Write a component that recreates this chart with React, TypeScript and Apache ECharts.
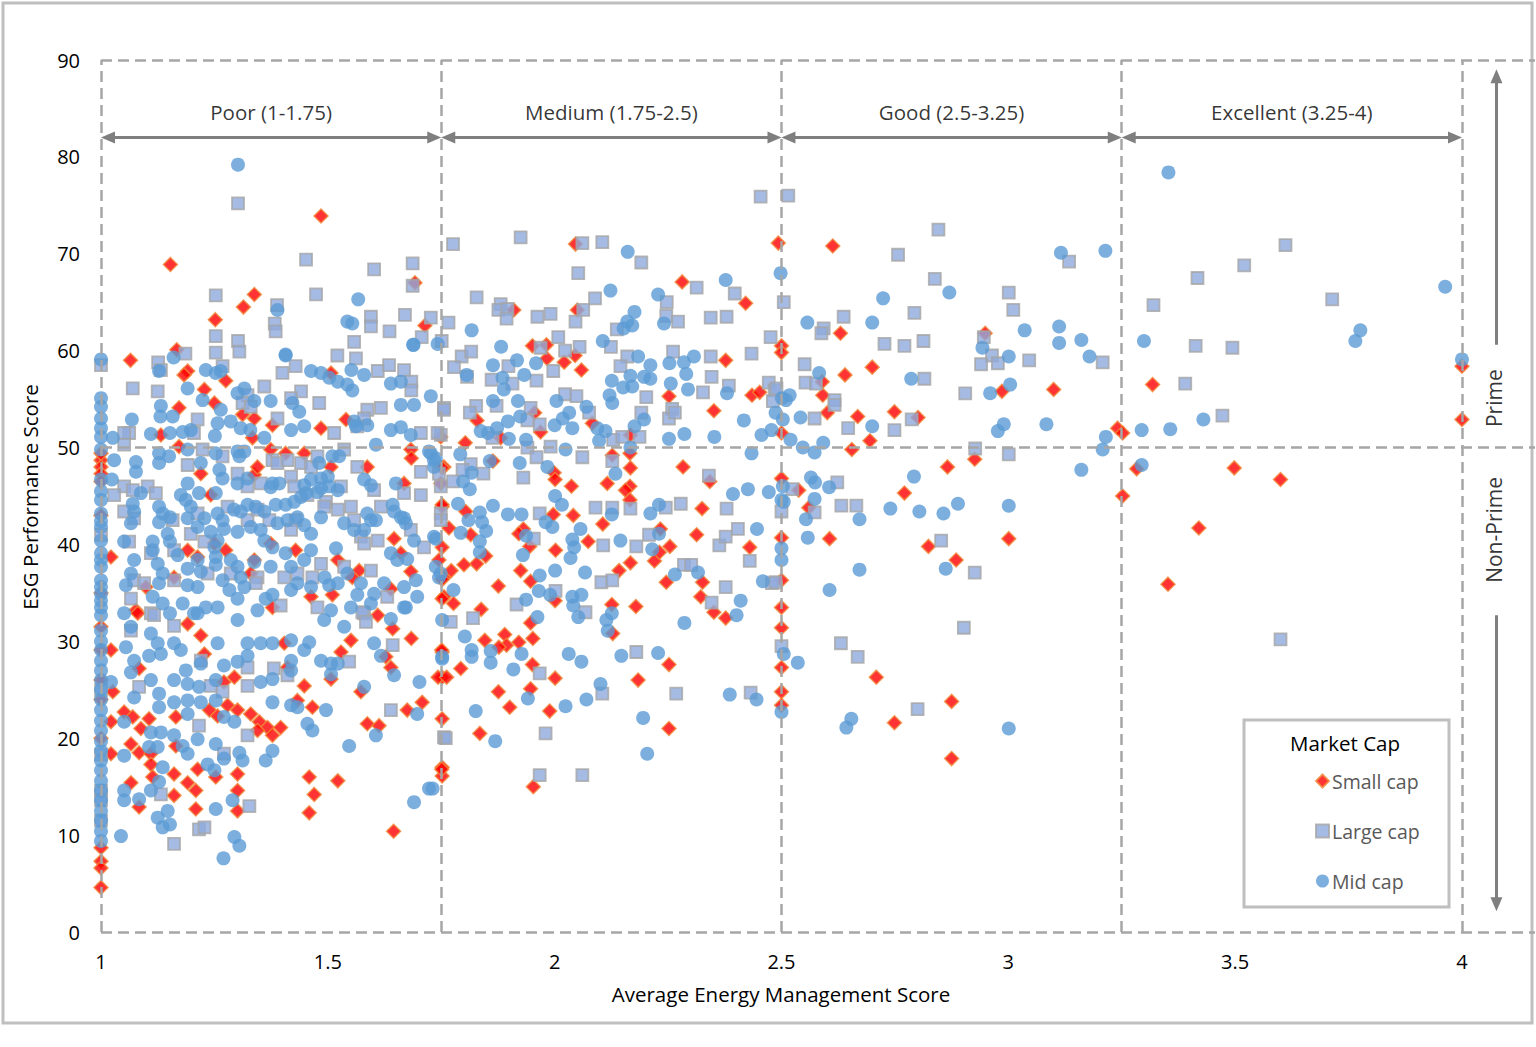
import React, { useEffect, useRef } from "react";
import * as echarts from "echarts";

const FONT = "'Open Sans', 'Noto Sans', sans-serif";

const xBoundaries = [1, 1.75, 2.5, 3.25, 4];
const yGuides = [0, 50, 90];
const bandLabels = ["Poor (1-1.75)", "Medium (1.75-2.5)", "Good (2.5-3.25)", "Excellent (3.25-4)"];
const bandLabelY = 84.6;
const arrowY = 82.0;
const sideLabels = ["Prime", "Non-Prime"];
const sideLabelPos = [[4.071, 55.1], [4.071, 41.5]];
const sideArrowX = 4.076;
const primeArrow = [60.6, 88.4];
const nonPrimeArrow = [32.7, 2.8];
const xTickLabels = ["1", "1.5", "2", "2.5", "3", "3.5", "4"];
const seriesNames = ["Small cap", "Large cap", "Mid cap"];

const smallCap: number[][] = [
  [1.485,73.9],[1.153,68.9],[1.338,65.8],[1.314,64.5],[1.252,63.2],[1.692,67.0],[1.714,62.6],[1.065,59.0],[1.167,60.1],
  [1.191,57.9],[1.183,57.5],[1.275,56.9],[1.228,56.0],[1.25,54.6],[1.172,54.1],[1.132,51.3],[1.172,50.1],[1.312,53.4],[1.338,53.0],[1.378,52.3],[1.338,47.2],[1.345,48.0],[1.407,49.4],[1.485,52.0],[1.507,57.7],[1.54,52.9],[1.587,48.0],[1.683,49.8],[1.684,48.9],[1.756,48.0],[1.752,43.9],[1.752,39.7],[1.756,34.6],[1.756,36.6],[1.749,46.3],[1.668,46.3],[1.646,40.6],[1.661,39.1],[1.683,37.2],[1.639,35.4],[1.61,32.7],[1.745,38.4],[1.569,37.3],[1.554,36.6],[1.522,38.4],[1.51,34.8],[1.463,34.6],[1.429,39.4],[1.374,40.1],[1.378,33.5],[1.33,37.0],[1.338,38.4],[1.275,39.4],[1.25,40.1],[1.191,39.4],[1.213,38.7],[1.161,36.6],[1.077,33.2],[1.022,38.7],[1.099,35.6],[1.334,51.0],[1.22,47.3],[1.242,45.1],[1.374,49.8],[1.448,49.4],[1.507,48.0],[1,48.7],[1,48.0],[1,47.3],[1,49.4],[1,46.5],[1.749,51.1],
  [1,29.1],[1,8.7],[1,7.3],[1,6.6],[1,4.6],[1,43.0],[1,35.0],[1,31.5],[1,20.0],[1,26.0],[1,24.0],[1.022,29.1],[1.026,24.8],[1.022,21.7],[1.022,18.4],[1.051,22.7],[1.07,22.2],[1.066,19.4],[1.084,18.5],[1.066,15.4],[1.084,12.9],[1.081,32.9],[1.084,27.2],[1.088,21.0],[1.106,22.0],[1.11,18.4],[1.11,17.3],[1.114,16.0],[1.165,19.2],[1.161,16.3],[1.161,14.1],[1.191,15.4],[1.209,14.6],[1.209,12.7],[1.213,16.8],[1.165,22.2],[1.191,31.8],[1.22,30.6],[1.228,28.7],[1.239,22.9],[1.271,25.8],[1.294,26.3],[1.279,23.4],[1.301,22.9],[1.257,22.3],[1.33,22.5],[1.349,21.7],[1.367,21.1],[1.396,21.1],[1.345,20.8],[1.378,20.3],[1.301,14.6],[1.301,12.5],[1.301,16.3],[1.253,16.0],[1.411,27.3],[1.433,23.9],[1.466,23.2],[1.404,29.8],[1.448,25.4],[1.529,28.9],[1.551,30.1],[1.507,26.1],[1.573,24.8],[1.587,21.5],[1.613,21.3],[1.639,27.3],[1.628,28.4],[1.643,31.3],[1.684,30.3],[1.708,23.7],[1.675,22.9],[1.459,16.0],[1.47,14.2],[1.459,12.3],[1.522,15.6],[1.645,10.4],[1.752,22.0],[1.752,17.0],[1.752,16.1],[1.752,26.3],[1.752,28.9],
  [2.046,71.0],[2.281,67.1],[2.421,64.9],[2.493,71.1],[1.91,64.2],[2.05,64.2],[1.951,60.5],[1.982,60.6],[1.983,59.2],[2.021,58.8],[2.059,58.0],[2.045,59.5],[2.377,59.0],[2.5,60.5],[2.5,59.8],[2.252,55.3],[2.351,53.8],[2.435,55.4],[2.452,55.7],[1.829,52.8],[1.956,53.6],[2.083,52.5],[1.969,51.6],[1.803,50.5],[1.881,51.0],[2.167,51.3],[2.166,49.4],[2.167,47.9],[2.127,49.2],[1.999,47.4],[2.001,46.7],[2.283,48.0],[2.116,46.3],[2.166,46.0],[2.156,45.6],[2.166,44.6],[2.037,46.0],[1.864,48.6],[1.752,47.9],[1.804,43.4],[2.5,51.5],[2.342,46.5],[2.325,43.7],[1.997,43.1],[2.041,43.0],
  [1.752,44.1],[1.767,41.7],[1.815,41.0],[1.828,38.0],[1.8,37.9],[1.772,37.3],[1.752,36.4],[1.752,34.4],[1.777,33.9],[1.848,38.8],[1.876,35.7],[1.838,33.3],[1.925,37.3],[1.947,36.2],[1.931,41.6],[1.921,41.1],[1.945,39.8],[2.106,42.1],[2.074,40.3],[2.002,39.4],[2.001,34.2],[1.947,31.9],[1.952,30.3],[1.89,30.7],[1.846,30.1],[1.894,29.6],[1.921,29.9],[1.877,29.4],[1.751,29.1],[1.793,27.2],[1.743,26.3],[1.762,26.3],[1.951,27.6],[1.947,25.1],[2.001,26.2],[1.876,24.8],[1.901,23.2],[1.989,22.8],[1.835,20.5],[2.142,37.3],[2.167,38.1],[2.126,33.8],[2.128,30.8],[2.179,33.6],[2.22,38.3],[2.231,39.2],[2.254,39.8],[2.233,41.6],[2.246,36.1],[2.326,36.1],[2.322,34.6],[2.351,33.0],[2.377,32.4],[2.313,41.0],[2.43,39.7],[2.252,27.6],[2.184,26.0],[2.252,21.0],[1.953,15.0],[1.751,16.8],[2.5,40.7],[2.5,36.3],[2.5,33.5],[2.5,31.4],[2.5,27.3],[2.5,24.8],[2.5,23.4],[2.5,46.8],
  [2.613,70.8],[2.63,61.8],[2.949,61.8],[2.7,58.3],[2.64,57.5],[2.59,56.8],[2.591,55.4],[2.601,53.6],[2.668,53.2],[2.749,53.7],[2.801,53.1],[2.986,55.8],[3.1,56.0],[2.695,50.7],[2.655,49.8],[3.241,52.0],[3.252,51.5],[2.926,48.8],[2.866,48.0],[3.283,47.8],[3.252,45.0],[2.771,45.3],[2.538,45.6],[2.56,43.8],
  [2.606,40.6],[2.824,39.8],[2.885,38.4],[3.001,40.6],[2.709,26.3],[2.875,23.8],[2.749,21.6],[2.875,17.9],
  [3.318,56.5],[4.0,58.4],[4.0,52.9],[3.498,47.9],[3.6,46.7],[3.42,41.7],[3.352,35.9]
];

const largeCap: number[][] = [
  [1.302,75.2],[1.452,69.4],[1.602,68.4],[1.687,69.0],[1.687,66.7],[1.776,71.0],[1.253,65.7],[1.474,65.8],[1.388,64.7],[1.383,62.8],[1.595,63.5],[1.595,62.5],[1.67,63.7],[1.727,63.4],[1.636,62.0],[1.707,61.4],[1.751,61.0],[1.766,62.9],[1.828,65.5],[1.558,60.9],[1.521,59.5],[1.562,59.2],[1.302,61.0],[1.305,59.9],[1.253,61.5],[1.253,59.8],[1.186,59.7],[1.126,58.8],[1,58.5],
  [1.132,58.0],[1.07,56.1],[1.125,55.8],[1.268,58.4],[1.323,55.4],[1.312,54.6],[1.36,56.3],[1.4,57.7],[1.429,58.4],[1.441,55.8],[1.419,55.1],[1.481,54.6],[1.61,57.9],[1.635,58.5],[1.668,58.0],[1.684,56.8],[1.684,55.9],[1.756,54.1],[1.749,51.3],[1.587,53.9],[1.617,54.1],[1.58,53.0],[1.565,52.2],[1.514,51.5],[1.705,51.5],[1.389,53.0],[1.33,54.2],[1.205,51.5],[1.213,52.9],[1.062,51.5],[1.051,51.5],[1.051,50.3],[1.385,62.0],[1.378,48.7],[1.389,48.4],[1.411,48.7],[1.441,48.4],[1.463,48.0],[1.477,49.1],[1.536,49.8],[1.565,48.0],[1.191,48.2],[1.224,49.8],[1.268,49.1],[1.301,47.3],[1.323,46.0],[1.352,46.3],[1.419,47.0],[1.426,46.0],[1.455,45.1],[1.496,44.4],[1.529,46.0],[1.602,45.6],[1.668,45.3],[1.705,47.5],[1.745,47.3],[1.705,45.1],[1.749,43.2],[1.051,46.0],[1.029,45.1],[1.07,45.6],[1.103,46.0],[1.121,45.3],[1.051,43.4],[1.158,42.5],[1.213,43.2],[1.198,41.1],[1.279,43.9],[1.323,42.5],[1.345,43.6],[1.371,42.5],[1.429,42.5],[1.419,41.5],[1.492,43.9],[1.522,43.6],[1.551,43.9],[1.558,42.5],[1.617,43.9],[1.573,40.8],[1.61,40.4],[1.58,40.1],[1.712,39.7],[1.683,41.5],[1.749,42.5],[1.228,40.3],[1.161,39.4],[1.073,42.7],[1.062,40.3],[1.11,39.1],[1.073,36.3],[1.095,36.0],[1.161,36.3],[1.235,37.0],[1.286,37.0],[1.345,36.6],[1.404,36.6],[1.433,37.0],[1.466,36.6],[1.485,38.0],[1.536,37.7],[1.595,37.3],[1.631,34.6],[1.341,36.0],[1.396,33.7],[1.477,33.5],[1.066,34.4],[1.11,32.9],[1.58,32.9],[1.749,46.0],
  [1,14.6],[1,13.6],[1,11.5],[1,18.3],[1,25.0],[1,41.0],[1.066,31.1],[1.117,32.7],[1.161,31.6],[1.084,25.3],[1.132,14.2],[1.22,28.0],[1.242,25.4],[1.268,24.8],[1.216,21.3],[1.323,25.4],[1.323,20.3],[1.271,18.4],[1.323,27.3],[1.381,27.2],[1.411,26.5],[1.547,27.9],[1.576,33.0],[1.584,32.0],[1.643,29.6],[1.639,22.9],[1.327,13.0],[1.216,10.6],[1.228,10.8],[1.161,9.1],[1.756,20.1],
  [1.925,71.7],[2.061,71.1],[2.105,71.2],[2.191,69.1],[2.052,68.0],[2.313,66.5],[2.397,65.9],[2.089,65.4],[2.247,65.0],[1.881,64.8],[1.876,64.2],[1.896,64.3],[1.894,63.3],[1.962,63.5],[1.991,63.8],[2.063,64.2],[2.046,63.0],[2.246,63.6],[2.272,63.0],[2.344,63.4],[2.379,63.5],[2.137,62.2],[2.476,61.4],[2.505,65.0],[2.008,61.4],[2.124,60.4],[2.023,60.0],[2.055,60.4],[1.969,60.3],[1.795,59.4],[1.816,59.9],[1.778,58.3],[1.898,58.4],[1.807,57.3],[1.861,57.0],[1.907,56.6],[1.96,56.9],[1.997,57.9],[2.16,59.4],[2.145,58.4],[2.261,59.9],[2.344,59.4],[2.346,57.3],[2.434,59.7],[2.384,56.4],[2.327,55.7],[2.472,56.7],[2.485,55.9],[2.481,54.8],[2.023,55.5],[2.048,55.3],[2.202,55.2],[2.259,54.0],[2.252,53.0],[2.265,53.6],[2.191,53.6],[1.827,54.3],[1.813,53.6],[1.872,54.3],[1.947,54.1],[1.756,53.9],[1.742,51.5],[1.967,52.4],[1.94,52.8],[1.863,51.0],[1.991,50.1],[2.076,53.6],[2.129,50.8],[2.149,51.1],[2.187,51.1],[1.94,50.0],[1.96,49.0],[2.061,49.0],[2.127,48.6],[1.815,48.3],[1.843,47.3],[1.797,47.7],[1.931,46.9],[1.776,46.5],[2.34,47.1],[2.09,43.8],[2.127,43.8],[2.167,43.7],[2.245,43.8],[2.278,44.2],[2.379,43.7],[1.967,43.2],[2.5,43.4],
  [1.954,40.6],[2.107,39.9],[2.18,39.8],[2.208,41.0],[2.363,39.9],[2.377,40.8],[2.404,41.6],[2.43,38.3],[2.285,37.9],[2.301,37.9],[2.103,36.1],[2.127,36.3],[2.002,35.2],[1.916,33.8],[2.068,33.0],[2.346,34.0],[2.377,35.6],[2.479,36.0],[1.771,32.0],[1.82,32.4],[2.18,28.9],[1.967,26.7],[2.105,24.6],[2.268,24.6],[2.432,24.7],[2.5,29.5],[1.98,20.5],[1.76,20.0],[1.967,16.2],[2.061,16.2],
  [2.454,75.9],[2.515,76.0],
  [2.846,72.5],[2.757,69.9],[2.838,67.4],[3.134,69.2],[3.001,66.0],[3.011,64.2],[2.637,63.5],[2.593,62.3],[2.588,61.8],[2.793,63.9],[2.727,60.7],[2.771,60.5],[2.813,61.0],[2.946,61.4],[2.964,59.5],[2.94,58.6],[2.977,58.7],[3.046,59.0],[3.208,58.8],[2.551,58.6],[2.553,56.7],[2.576,56.6],[2.617,54.9],[2.617,54.4],[2.815,57.1],[2.905,55.6],[2.573,53.0],[2.647,52.0],[2.749,51.8],[2.787,52.9],[2.927,49.9],[3.001,49.3],[2.489,56.1],[2.524,45.7],[2.623,46.4],[2.632,44.0],[2.665,44.0],[2.573,43.3],
  [2.852,40.4],[2.926,37.1],[2.902,31.4],[2.631,29.8],[2.668,28.4],[2.8,23.0],[2.487,36.1],
  [3.611,70.9],[3.52,68.8],[3.417,67.5],[3.32,64.7],[3.714,65.3],[3.413,60.5],[3.494,60.3],[3.39,56.6],[3.472,53.3],[3.6,30.2]
];

const midCap: number[][] = [
  [1.302,79.2],[1.389,64.2],[1.567,65.3],[1.543,63.0],[1.554,62.8],[1.688,60.6],[1.742,60.7],[1.16,59.3],[1.407,59.5],
  [1.026,51.0],[1.024,46.7],[1.029,48.7],[1.068,52.9],[1.11,51.4],[1.128,57.9],[1.132,54.3],[1.131,53.2],[1.158,53.2],[1.152,51.5],[1.191,56.1],[1.224,54.9],[1.231,58.0],[1.253,57.7],[1.264,57.9],[1.264,53.9],[1.251,51.2],[1.257,52.5],[1.198,51.8],[1.18,51.6],[1.301,55.6],[1.316,56.1],[1.338,54.8],[1.286,52.7],[1.308,52.0],[1.329,51.8],[1.36,51.0],[1.374,54.8],[1.407,59.6],[1.422,54.6],[1.437,53.7],[1.448,52.2],[1.419,51.8],[1.463,57.9],[1.485,57.7],[1.503,57.2],[1.522,56.8],[1.543,56.5],[1.554,55.9],[1.552,58.0],[1.58,57.5],[1.558,52.7],[1.562,52.2],[1.587,52.3],[1.606,50.3],[1.639,56.6],[1.661,56.8],[1.661,54.4],[1.69,54.4],[1.639,51.8],[1.661,52.1],[1.683,51.3],[1.689,60.6],[1.727,55.3],[1.727,49.4],[1.734,48.0],
  [1.301,49.6],[1.316,49.6],[1.305,49.1],[1.253,49.4],[1.22,48.4],[1.191,49.8],[1.128,49.4],[1.128,48.4],[1.15,49.1],[1.077,48.5],[1.077,47.5],[1.481,48.4],[1.51,49.1],[1.525,49.1],[1.723,49.6],[1.738,48.9],
  [1.261,47.7],[1.268,46.8],[1.301,46.3],[1.323,46.8],[1.378,46.3],[1.393,46.3],[1.448,46.1],[1.463,46.7],[1.485,46.8],[1.5,47.0],[1.485,45.8],[1.522,45.6],[1.58,46.7],[1.595,46.1],[1.65,46.3],[1.643,44.1],[1.668,42.7],[1.672,42.2],[1.69,40.4],[1.734,40.8],[1.738,37.7],[1.749,37.0],
  [1.191,46.3],[1.216,45.3],[1.176,45.1],[1.253,45.3],[1.257,43.2],[1.268,42.5],[1.293,43.6],[1.308,43.4],[1.323,44.1],[1.341,43.9],[1.374,45.9],[1.36,43.4],[1.385,44.1],[1.407,44.1],[1.426,44.4],[1.441,44.9],[1.452,45.3],[1.477,45.4],[1.503,46.0],[1.07,44.2],[1.088,45.3],[1.073,43.4],[1.066,42.2],[1.051,40.3],[1.128,43.9],[1.136,43.2],[1.152,42.8],[1.128,42.3],[1.147,41.1],[1.152,40.3],[1.114,40.3],[1.114,39.4],[1.125,38.0],[1.136,37.0],[1.128,36.0],[1.073,38.4],[1.066,37.0],[1.055,35.8],[1.169,38.9],[1.191,37.5],[1.191,35.8],[1.213,35.6],[1.22,37.2],[1.213,38.4],[1.18,33.9],[1.136,33.9],[1.114,34.6],[1.187,44.6],[1.198,43.9],[1.191,42.7],[1.228,42.7],[1.213,41.8],[1.242,41.3],[1.257,40.4],[1.271,41.6],[1.301,41.3],[1.33,41.8],[1.352,41.5],[1.36,40.4],[1.378,39.7],[1.389,42.2],[1.411,42.5],[1.433,42.8],[1.448,42.0],[1.463,41.1],[1.485,42.8],[1.536,42.2],[1.558,41.5],[1.58,41.5],[1.595,42.5],[1.587,43.2],[1.606,42.5],[1.646,43.4],[1.661,42.8],
  [1.25,39.7],[1.253,38.7],[1.253,37.9],[1.286,38.4],[1.301,37.7],[1.308,36.6],[1.316,35.6],[1.283,35.3],[1.268,36.3],[1.338,38.2],[1.374,37.7],[1.407,39.1],[1.419,37.7],[1.448,38.4],[1.463,39.4],[1.493,36.6],[1.463,35.6],[1.433,36.0],[1.419,35.3],[1.363,34.4],[1.378,34.8],[1.345,33.2],[1.301,34.4],[1.257,33.5],[1.231,33.5],[1.205,32.9],[1.503,35.8],[1.522,36.0],[1.543,37.0],[1.573,36.0],[1.602,34.9],[1.565,34.8],[1.595,33.9],[1.624,36.0],[1.639,39.1],[1.653,38.4],[1.675,38.5],[1.694,36.3],[1.668,35.6],[1.672,33.5],[1.697,34.6],[1.745,36.6],[1.752,32.2],[1.518,39.6],
  [1.022,25.8],[1.051,32.9],[1.055,29.4],[1.066,31.5],[1.073,28.0],[1.066,26.8],[1.073,24.2],[1.051,21.7],[1.051,18.2],[1.051,14.6],[1.051,13.6],[1.084,13.7],[1.044,9.9],[1.11,30.8],[1.106,28.5],[1.125,29.8],[1.132,28.7],[1.11,26.0],[1.128,24.6],[1.128,23.2],[1.11,20.6],[1.132,20.6],[1.106,19.1],[1.125,19.1],[1.136,17.0],[1.128,15.5],[1.11,14.6],[1.125,11.8],[1.147,12.5],[1.136,10.8],[1.152,11.1],[1.152,32.9],[1.161,29.8],[1.176,29.1],[1.161,26.0],[1.187,27.0],[1.191,25.6],[1.191,23.9],[1.161,23.7],[1.161,20.3],[1.18,19.2],[1.191,18.4],[1.213,32.9],[1.22,27.7],[1.216,25.3],[1.191,22.5],[1.22,23.7],[1.253,26.0],[1.253,23.9],[1.271,27.5],[1.257,29.8],[1.253,19.4],[1.213,19.9],[1.235,17.3],[1.25,16.7],[1.271,17.9],[1.271,22.2],[1.294,21.7],[1.312,17.7],[1.305,18.5],[1.253,12.7],[1.29,13.6],[1.294,9.8],[1.305,8.9],[1.27,7.6],[1.301,27.9],[1.323,29.8],[1.323,28.5],[1.352,29.8],[1.378,29.8],[1.352,25.8],[1.378,26.1],[1.378,23.7],[1.363,17.7],[1.378,18.7],[1.301,32.2],[1.419,30.1],[1.419,28.0],[1.419,27.0],[1.448,29.1],[1.485,28.0],[1.507,27.7],[1.522,27.7],[1.507,26.6],[1.459,29.9],[1.419,23.4],[1.433,23.2],[1.455,21.5],[1.466,20.8],[1.496,22.9],[1.551,33.5],[1.536,31.5],[1.602,29.8],[1.617,28.5],[1.646,26.5],[1.58,25.3],[1.702,25.8],[1.697,22.5],[1.606,20.3],[1.547,19.2],[1.723,14.8],[1.731,14.8],[1.69,13.4],[1.752,28.2],[1.639,32.3],[1.668,33.5],[1.492,32.2],[1.507,33.2],
  [1,59.1],[1,55.1],[1,54.2],[1,53.0],[1,52.0],[1,51.1],[1,49.8],[1,46.7],[1,45.5],[1,44.6],[1,43.2],[1,42.4],[1,41.8],[1,40.4],[1,39.1],[1,38.4],[1,37.7],[1,36.3],[1,35.6],[1,34.9],[1,34.2],[1,33.5],[1,32.7],[1,31.1],[1,30.0],[1,29.1],[1,28.0],[1,27.0],[1,26.0],[1,25.0],[1,24.0],[1,22.9],[1,21.8],[1,20.8],[1,19.7],[1,18.7],[1,17.7],[1,16.7],[1,15.6],[1,14.6],[1,13.6],[1,12.5],[1,11.5],[1,10.4],[1,9.4],
  [2.161,70.2],[2.123,66.2],[2.228,65.8],[2.377,67.3],[2.498,68.0],[1.817,62.1],[2.176,64.0],[2.16,63.0],[2.152,62.3],[2.171,62.6],[2.241,62.8],[2.106,61.0],[1.882,60.4],[1.864,58.5],[1.917,59.0],[1.959,58.7],[1.933,57.5],[1.885,57.2],[1.888,56.0],[1.806,57.5],[2.184,59.4],[2.211,58.5],[2.253,58.7],[2.285,58.8],[2.307,59.4],[2.29,57.6],[2.167,57.4],[2.197,57.3],[2.211,57.1],[2.126,56.9],[2.151,56.2],[2.171,56.3],[2.256,56.6],[2.294,56.0],[2.38,55.6],[2.121,55.4],[2.127,54.6],[2.004,54.8],[1.864,54.8],[1.919,54.8],[2.07,54.2],[2.032,53.6],[2.018,53.0],[2.0,52.3],[2.039,52.0],[1.924,53.2],[1.897,52.7],[1.873,52.0],[1.837,51.7],[1.853,51.5],[1.899,50.9],[1.937,50.8],[2.094,52.0],[2.112,51.7],[2.098,50.7],[2.176,52.2],[2.197,52.9],[2.167,50.0],[2.252,50.9],[2.286,51.4],[2.352,51.1],[2.417,52.8],[2.456,51.3],[2.478,51.8],[2.487,53.6],[2.503,52.9],[2.51,54.9],[2.434,49.4],[2.024,49.8],[1.792,49.3],[1.857,48.6],[1.923,48.4],[1.984,48.0],[1.817,47.4],[1.798,46.5],[1.813,45.7],[2.001,45.0],[2.016,44.1],[2.134,47.3],[2.23,44.1],[2.393,45.2],[2.426,45.7],[2.472,45.4],[2.503,46.0],[2.505,44.4],[1.787,44.2],[1.864,44.0],[1.835,43.3],[1.897,43.1],[1.927,43.1],[2.126,43.1],[2.211,43.2],[1.734,48.7],
  [1.81,42.5],[1.84,42.3],[1.793,41.2],[1.849,41.4],[1.835,40.3],[1.835,39.2],[1.738,40.6],[1.98,42.3],[1.995,41.8],[2.057,41.6],[2.039,40.5],[2.043,39.7],[2.035,38.6],[1.937,40.9],[1.93,38.9],[2.145,40.4],[2.215,39.5],[2.23,41.1],[2.446,41.6],[2.265,36.9],[2.316,37.1],[2.459,36.2],[2.41,34.2],[2.401,32.7],[2.286,31.9],[2.001,37.3],[2.067,37.1],[1.967,36.8],[1.965,35.2],[1.99,34.8],[2.039,34.6],[2.059,34.8],[2.041,33.7],[2.052,32.5],[1.937,34.3],[2.126,32.9],[2.114,32.2],[2.117,31.1],[1.962,32.5],[1.777,35.3],[1.802,30.5],[1.817,29.1],[1.817,28.4],[1.859,29.0],[1.859,27.8],[1.927,28.7],[1.909,27.1],[2.031,28.7],[2.059,27.9],[2.147,28.5],[2.228,28.8],[2.101,25.6],[2.07,24.0],[2.024,23.3],[1.941,24.1],[1.826,22.8],[1.869,19.7],[2.195,22.1],[2.204,18.4],[2.386,24.5],[2.445,24.0],[1.752,28.4],[2.5,22.7],[2.505,28.7],[2.5,39.6],[2.5,38.4],[2.5,44.6],
  [2.724,65.4],[2.557,62.9],[2.7,62.9],[2.87,66.0],[3.116,70.1],[3.214,70.3],[3.036,62.1],[3.112,62.5],[3.112,60.8],[3.161,61.1],[3.179,59.4],[3.299,61.0],[2.943,60.3],[3.001,59.4],[3.004,56.5],[2.96,55.6],[2.786,57.1],[2.583,57.7],[2.518,55.4],[2.501,55.1],[2.542,53.1],[2.7,52.2],[2.977,51.7],[2.99,52.4],[3.084,52.4],[3.215,51.1],[3.208,49.8],[3.294,51.8],[3.294,48.2],[3.161,47.7],[2.52,50.8],[2.547,50.0],[2.573,49.5],[2.592,50.5],[2.792,47.0],[2.565,46.9],[2.574,46.4],[2.605,45.9],[2.573,44.7],[2.74,43.7],[2.804,43.4],[2.857,43.2],[2.889,44.2],[3.001,44.0],[2.554,42.6],[2.672,42.6],
  [2.558,40.7],[2.672,37.4],[2.862,37.5],[2.606,35.3],[2.536,27.8],[2.654,22.0],[2.643,21.1],[3.001,21.0],
  [3.353,78.4],[3.963,66.6],[3.776,62.1],[3.765,61.0],[4.0,59.1],[3.357,51.9],[3.43,52.9]
];

const ARROW_HEAD = "path://M6,0L12,14L0,14Z";

export default function App() {
  const ref = useRef<HTMLDivElement>(null);
  useEffect(() => {
    if (!ref.current) return;
    const chart = echarts.init(ref.current, null, { renderer: "svg" });
    const axisText = { color: "#000", fontSize: 20, fontFamily: FONT };
    const xMaxExt = 4.161;
    // half the arrow-head length, expressed in data units of each axis
    const halfHeadX = 0.0154;
    const halfHeadY = 0.072;

    const guideLines: any[] = [
      ...xBoundaries.map((v) => ({ xAxis: v })),
      ...yGuides.map((v) => ({ yAxis: v })),
    ];
    const arrowLines: any[] = [];
    for (let i = 0; i < xBoundaries.length - 1; i++) {
      arrowLines.push([
        { coord: [xBoundaries[i] + halfHeadX, arrowY], symbol: ARROW_HEAD },
        { coord: [xBoundaries[i + 1] - halfHeadX, arrowY], symbol: ARROW_HEAD },
      ]);
    }
    arrowLines.push([
      { coord: [sideArrowX, primeArrow[0]], symbol: "none" },
      { coord: [sideArrowX, primeArrow[1] - halfHeadY], symbol: ARROW_HEAD },
    ]);
    arrowLines.push([
      { coord: [sideArrowX, nonPrimeArrow[0]], symbol: "none" },
      { coord: [sideArrowX, nonPrimeArrow[1] + halfHeadY], symbol: ARROW_HEAD },
    ]);

    const option: any = {
      animation: false,
      backgroundColor: "#fff",
      textStyle: { fontFamily: FONT },
      grid: { left: 101, right: 1, top: 60, bottom: 115, containLabel: false },
      xAxis: {
        type: "value",
        min: 1,
        max: xMaxExt,
        interval: 0.5,
        axisLine: { show: false },
        axisTick: { show: false },
        splitLine: { show: false },
        axisLabel: {
          ...axisText,
          margin: 19,
          showMaxLabel: false,
          formatter: (v: number) => {
            const idx = Math.round((v - 1) / 0.5);
            return Math.abs(v - (1 + idx * 0.5)) < 1e-6 && idx >= 0 && idx < xTickLabels.length ? xTickLabels[idx] : "";
          },
        },
      },
      yAxis: {
        type: "value",
        min: 0,
        max: 90,
        interval: 10,
        axisLine: { show: false },
        axisTick: { show: false },
        splitLine: { show: false },
        axisLabel: { ...axisText, margin: 21 },
      },
      legend: {
        data: seriesNames,
        orient: "vertical",
        left: 1315,
        top: 771,
        padding: 0,
        itemGap: 30,
        itemWidth: 13,
        itemHeight: 13,
        z: 20,
        textStyle: { color: "#595959", fontSize: 19.5, fontFamily: FONT, padding: [0, 0, 0, -2] },
      },
      graphic: [
        { type: "rect", shape: { x: 3, y: 3, width: 1529, height: 1020 }, style: { fill: "none", stroke: "#BFBFBF", lineWidth: 3 }, z: 1, silent: true },
        { type: "rect", shape: { x: 1244, y: 720, width: 205, height: 187 }, style: { fill: "#fff", stroke: "#BFBFBF", lineWidth: 3 }, z: 15, silent: true },
        { type: "text", x: 1345, y: 743, style: { text: "Market Cap", fill: "#000", fontSize: 20.5, fontFamily: FONT, align: "center", verticalAlign: "middle" }, z: 16 },
        { type: "text", x: 781, y: 994, style: { text: "Average Energy Management Score", fill: "#000", fontSize: 20.5, fontFamily: FONT, align: "center", verticalAlign: "middle" }, z: 16 },
        { type: "text", x: 30, y: 497, rotation: Math.PI / 2, style: { text: "ESG Performance Score", fill: "#000", fontSize: 20.5, fontFamily: FONT, align: "center", verticalAlign: "middle" }, z: 16 },
      ],
      series: [
        {
          name: seriesNames[0],
          type: "scatter",
          symbol: "diamond",
          symbolSize: 14,
          itemStyle: { color: "#FF0000", borderColor: "#F0883A", borderWidth: 1.5 },
          data: smallCap,
          z: 2,
        },
        {
          name: seriesNames[1],
          type: "scatter",
          symbol: "rect",
          symbolSize: 12,
          itemStyle: { color: "#8FAADC", borderColor: "#A5A5A5", borderWidth: 1.8 },
          data: largeCap,
          z: 3,
        },
        {
          name: seriesNames[2],
          type: "scatter",
          symbol: "circle",
          symbolSize: 14,
          itemStyle: { color: "#5B9BD5" },
          data: midCap,
          z: 4,
        },
        {
          name: "bands",
          type: "scatter",
          symbolSize: 1,
          itemStyle: { color: "rgba(0,0,0,0)" },
          silent: true,
          z: 6,
          data: bandLabels.map((_, i) => [(xBoundaries[i] + xBoundaries[i + 1]) / 2, bandLabelY]),
          label: {
            show: true,
            position: "inside",
            formatter: (p: any) => bandLabels[p.dataIndex],
            color: "#000",
            fontSize: 20.5,
            fontFamily: FONT,
          },
          markLine: {
            silent: true,
            symbol: ["none", "none"],
            label: { show: false },
            lineStyle: { color: "#A6A6A6", width: 2.5, type: [11, 6] },
            data: guideLines,
          },
        },
        {
          name: "sides",
          type: "scatter",
          symbolSize: 1,
          itemStyle: { color: "rgba(0,0,0,0)" },
          silent: true,
          z: 7,
          data: sideLabelPos,
          label: {
            show: true,
            position: "inside",
            rotate: 90,
            formatter: (p: any) => sideLabels[p.dataIndex],
            color: "#000",
            fontSize: 21,
            fontFamily: FONT,
          },
          markLine: {
            silent: true,
            symbolSize: [12, 14],
            label: { show: false },
            itemStyle: { color: "#7F7F7F" },
            lineStyle: { color: "#7F7F7F", width: 3, type: "solid" },
            data: arrowLines,
          },
        },
      ],
    };
    chart.setOption(option);
    return () => chart.dispose();
  }, []);
  return (
    <div
      ref={ref}
      style={{ position: "fixed", left: 0, top: 0, width: 1536, height: 1047, background: "#fff" }}
    />
  );
}
